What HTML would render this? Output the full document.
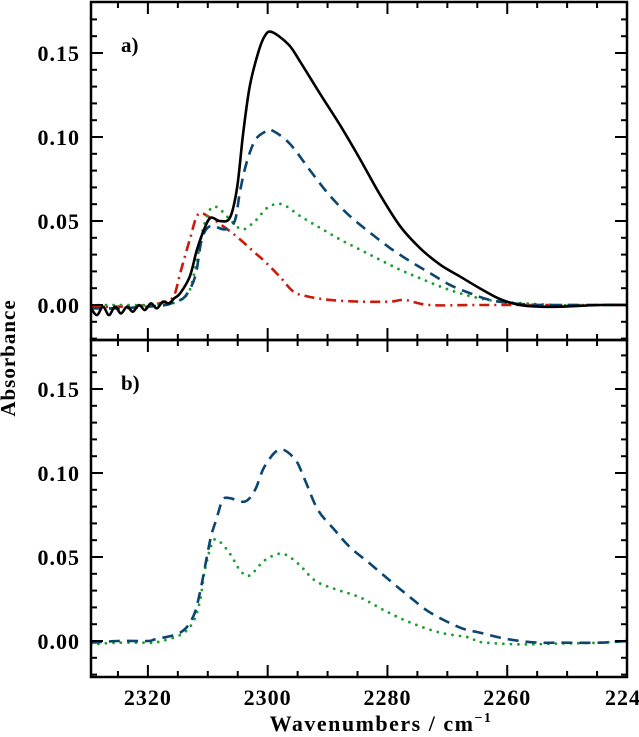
<!DOCTYPE html>
<html><head><meta charset="utf-8">
<style>
html,body{margin:0;padding:0;background:#fff;}
svg{display:block;}
text{font-family:"Liberation Serif",serif;fill:#000;}
</style></head>
<body>
<svg id="chart" width="639" height="737" viewBox="0 0 639 737" xmlns="http://www.w3.org/2000/svg"></svg>
<script>
// ---- data ----
const xTicks = [2320, 2300, 2280, 2260, 2240];
const xTickLabels = ["2320", "2300", "2280", "2260", "224"];
const yTicks = [0, 0.05, 0.10, 0.15];
const yTickLabels = ["0.00", "0.05", "0.10", "0.15"];

// panel a
const aBlackW = [2329.5,2328.5,2327.5,2326.5,2325.5,2324.5,2323.5,2322.5,2321.5,2320.5,2319.5,2318.5,2317.5,2316.5,2315.6,2314.6,2313.0,2311.8,2310.5,2309.5,2308.0,2306.3,2305.1,2304.1,2303.0,2301.6,2300.5,2299.3,2296.5,2294.6,2291.3,2287.9,2284.6,2281.3,2277.9,2274.6,2271.2,2267.9,2264.6,2261.2,2257.9,2254.5,2251.2,2244.5,2240.0];
const aBlackV = [-0.002,-0.006,-0.001,-0.006,-0.001,-0.005,-0.001,-0.004,0.000,-0.003,0.001,-0.002,0.002,0.001,0.004,0.007,0.017,0.033,0.046,0.052,0.050,0.052,0.070,0.102,0.130,0.150,0.160,0.1625,0.155,0.145,0.126,0.107,0.087,0.066,0.047,0.034,0.024,0.017,0.010,0.0035,0.000,-0.001,-0.001,0.000,0.000];
const aBlueW = [2329.5,2325,2320,2317,2315.5,2313.8,2312.1,2311.0,2309.6,2307.1,2305.5,2304.6,2303.5,2302.1,2300.5,2299.3,2296.3,2292.9,2289.6,2286.3,2282.9,2279.6,2276.2,2272.9,2269.6,2266.2,2262.9,2259,2254.5,2250,2245,2240.0];
const aBlueV = [-0.002,-0.002,-0.001,0.000,0.002,0.005,0.017,0.039,0.047,0.045,0.050,0.068,0.085,0.098,0.103,0.104,0.096,0.080,0.065,0.053,0.043,0.034,0.026,0.019,0.012,0.007,0.003,0.001,0.000,0.000,0.000,0.000];
const aGreenW = [2329.5,2325,2320,2316,2314.6,2313.0,2311.8,2310.8,2309.6,2308.3,2306.6,2304.3,2302.1,2300.0,2297.6,2294.6,2291.3,2287.9,2284.6,2281.3,2277.9,2274.6,2271.2,2267.9,2264.6,2261.2,2257,2252,2246,2240.0];
const aGreenV = [0.000,0.000,0.000,0.001,0.003,0.009,0.027,0.045,0.057,0.058,0.052,0.045,0.050,0.058,0.060,0.053,0.046,0.039,0.033,0.027,0.021,0.016,0.011,0.007,0.004,0.002,0.001,0.000,0.000,0.000];
const aRedW = [2329.5,2325,2320,2317,2315.6,2314.6,2313.0,2311.6,2309.6,2307.1,2304.6,2302.1,2300.5,2298.0,2295.7,2293.2,2289.6,2284.6,2279.6,2277.1,2273.0,2265,2255,2245,2240.0];
const aRedV = [-0.001,-0.001,0.000,0.002,0.006,0.019,0.039,0.054,0.052,0.046,0.039,0.031,0.026,0.017,0.008,0.005,0.003,0.002,0.002,0.003,0.000,0.000,0.000,0.000,0.000];

// panel b
const bBlueW = [2329.5,2325,2320,2318.8,2314.6,2312.5,2311.3,2309.6,2308.6,2307.5,2306.3,2303.8,2302.1,2300.5,2298.0,2295.4,2293.8,2291.6,2288.8,2286.3,2282.9,2279.6,2276.2,2272.9,2267.9,2264.6,2261.2,2257.9,2254.5,2251.2,2244.5,2240.0];
const bBlueV = [-0.001,0.000,0.000,0.001,0.005,0.014,0.029,0.060,0.072,0.084,0.085,0.083,0.090,0.104,0.114,0.108,0.096,0.078,0.066,0.056,0.046,0.036,0.026,0.017,0.008,0.005,0.002,0.000,-0.001,-0.001,-0.001,0.000];
const bGreenW = [2329.5,2325,2320,2318.8,2314.6,2312.5,2311.3,2310.5,2309.3,2308.3,2306.3,2304.6,2303.0,2300.5,2297.6,2294.9,2292.1,2288.8,2284.6,2280.4,2276.2,2271.2,2266.2,2264.6,2257.9,2251.2,2244.5,2240.0];
const bGreenV = [-0.002,-0.001,-0.001,-0.001,0.0036,0.011,0.024,0.042,0.058,0.060,0.052,0.042,0.039,0.048,0.052,0.046,0.036,0.031,0.026,0.018,0.011,0.005,0.002,-0.0006,-0.002,-0.0015,-0.001,0.000];

// ---- geometry ----
const SVGNS = "http://www.w3.org/2000/svg";
const svg = document.getElementById('chart');
const X0 = 91, X1 = 627;
const W0 = 2329.5, W1 = 2240.0;
const xs = w => X0 + (W0 - w) * (X1 - X0) / (W0 - W1);
const panels = [
  {top: 2, bottom: 340, zeroY: 305, label: "a)", labelY: 52},
  {top: 340, bottom: 677, zeroY: 641, label: "b)", labelY: 390}
];
const PXPERUNIT = 1680;
function ys(p, v){ return p.zeroY - v * PXPERUNIT; }

function el(tag, attrs, parent){
  const e = document.createElementNS(SVGNS, tag);
  for (const k in attrs) e.setAttribute(k, attrs[k]);
  (parent || svg).appendChild(e);
  return e;
}

function smoothPath(pts){
  let d = "M" + pts[0][0].toFixed(2) + "," + pts[0][1].toFixed(2);
  for (let i = 0; i < pts.length - 1; i++){
    const p0 = pts[Math.max(0,i-1)], p1 = pts[i], p2 = pts[i+1], p3 = pts[Math.min(pts.length-1,i+2)];
    const c1x = p1[0] + (p2[0]-p0[0])/6, c1y = p1[1] + (p2[1]-p0[1])/6;
    const c2x = p2[0] - (p3[0]-p1[0])/6, c2y = p2[1] - (p3[1]-p1[1])/6;
    d += "C" + c1x.toFixed(2)+","+c1y.toFixed(2)+" "+c2x.toFixed(2)+","+c2y.toFixed(2)+" "+p2[0].toFixed(2)+","+p2[1].toFixed(2);
  }
  return d;
}

const defs = el('defs', {});
panels.forEach((p, i) => {
  const cp = el('clipPath', {id: 'clip' + i}, defs);
  el('rect', {x: X0, y: p.top, width: X1 - X0, height: p.bottom - p.top}, cp);
});

function drawSeries(pi, W, V, stroke, dash, name){
  const p = panels[pi];
  const pts = W.map((w, i) => [xs(w), ys(p, V[i])]);
  const path = el('path', {d: smoothPath(pts), fill: 'none', stroke: stroke, 'stroke-width': dash === 'dot' ? 2.8 : 2.6,
    'stroke-linejoin': 'round', 'clip-path': 'url(#clip' + pi + ')'});
  if (dash === 'dash') path.setAttribute('stroke-dasharray', '11 7');
  if (dash === 'dot') { path.setAttribute('stroke-dasharray', '0 7.5'); path.setAttribute('stroke-linecap', 'round'); }
  if (dash === 'dashdot') path.setAttribute('stroke-dasharray', '10 5 2 5');
  
  
}

drawSeries(0, aRedW, aRedV, '#cc1a0a', 'dashdot', 'series-a-red-dashdot');
drawSeries(0, aGreenW, aGreenV, '#1a9e2e', 'dot', 'series-a-green-dotted');
drawSeries(0, aBlueW, aBlueV, '#0b4570', 'dash', 'series-a-blue-dashed');
drawSeries(0, aBlackW, aBlackV, '#000000', 'solid', 'series-a-black-solid');
drawSeries(1, bGreenW, bGreenV, '#1a9e2e', 'dot', 'series-b-green-dotted');
drawSeries(1, bBlueW, bBlueV, '#0b4570', 'dash', 'series-b-blue-dashed');

panels.forEach((p, pi) => {
  const frame = el('rect', {x: X0, y: p.top, width: X1 - X0, height: p.bottom - p.top, fill: 'none', stroke: '#000', 'stroke-width': 2.5});
  
  
  for (let k = -2; k <= 17; k++){
    const v = k / 100;
    const y = ys(p, v);
    if (y < p.top + 1 || y > p.bottom - 1) continue;
    const major = (k % 5 === 0);
    const L = major ? 12 : 6;
    el('line', {x1: X0, x2: X0 + L, y1: y, y2: y, stroke: '#000', 'stroke-width': 2});
    el('line', {x1: X1, x2: X1 - L, y1: y, y2: y, stroke: '#000', 'stroke-width': 2});
  }
  yTicks.forEach((v, i) => {
    const t = el('text', {x: 80, y: ys(p, v) + 8, 'text-anchor': 'end', 'font-size': 22, 'font-weight': 'bold', 'letter-spacing': 1});
    t.textContent = yTickLabels[i];
    
    
  });
  for (let w = 2325; w >= 2240; w -= 5){
    const x = xs(w);
    if (x > X1 - 1) continue;
    const major = (w % 20 === 0);
    const L = major ? 12 : 6;
    el('line', {x1: x, x2: x, y1: p.bottom, y2: p.bottom - L, stroke: '#000', 'stroke-width': 2});
    el('line', {x1: x, x2: x, y1: p.top, y2: p.top + L, stroke: '#000', 'stroke-width': 2});
  }
  const lab = el('text', {x: 121, y: p.labelY, 'font-size': 21, 'font-weight': 'bold'});
  lab.textContent = p.label;
  
  
});

xTicks.forEach((w, i) => {
  const t = el('text', {x: xs(w), y: 705, 'text-anchor': i === 4 ? 'start' : 'middle', 'font-size': 22, 'font-weight': 'bold', 'letter-spacing': 1});
  if (i === 4) t.setAttribute('x', xs(w) - 22);
  t.textContent = xTickLabels[i];
  
  
});

const xt = el('text', {x: 381, y: 731, 'text-anchor': 'middle', 'font-size': 22, 'font-weight': 'bold', 'letter-spacing': 1.5});
xt.innerHTML = 'Wavenumbers / cm<tspan dy="-9" font-size="14">−1</tspan>';



const yt = el('text', {x: 0, y: 0, 'text-anchor': 'middle', 'font-size': 21, 'font-weight': 'bold', 'letter-spacing': 1, transform: 'translate(15,358) rotate(-90)'});
yt.textContent = 'Absorbance';


</script>
</body></html>
